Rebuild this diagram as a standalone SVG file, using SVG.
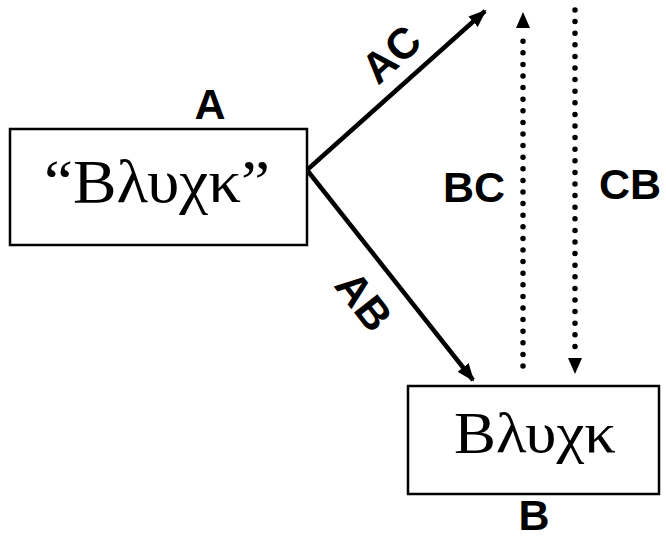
<svg xmlns="http://www.w3.org/2000/svg" width="666" height="543" viewBox="0 0 666 543">
<style>
.box{fill:#fff;stroke:#000;stroke-width:2.5}
.greek{font-family:"Liberation Serif","DejaVu Serif",serif;fill:#000;text-anchor:middle}
.lbl{font-family:"Liberation Sans",Arial,sans-serif;font-weight:bold;font-size:43px;fill:#000;text-anchor:middle}
.solid{stroke:#000;stroke-width:4.5;fill:none}
.dot{stroke:#000;stroke-width:5.5;fill:none;stroke-linecap:round;stroke-dasharray:0 11.6}
</style>
<defs>
<marker id="ah" markerUnits="userSpaceOnUse" markerWidth="18" markerHeight="14" refX="16" refY="7" orient="auto">
<path d="M0,0 L18,7 L0,14 Z" fill="#000"/>
</marker>
</defs>
<rect width="666" height="543" fill="#fff"/>
<g id="connectors">
<line class="solid" x1="307" y1="170" x2="485" y2="11" marker-end="url(#ah)"/>
<line class="solid" x1="307" y1="170" x2="473" y2="380" marker-end="url(#ah)"/>
<line class="dot" x1="523" y1="366" x2="523" y2="32"/>
<path d="M516,28 L530,28 L523,12 Z" fill="#000"/>
<line class="dot" x1="575" y1="10" x2="575" y2="355"/>
<path d="M568,358 L582,358 L575,374 Z" fill="#000"/>
<text class="lbl" transform="translate(391,54) rotate(-42)" y="15">AC</text>
<text class="lbl" transform="translate(364,301) rotate(52)" y="15">AB</text>
<text class="lbl" x="474" y="202">BC</text>
<text class="lbl" x="630" y="199">CB</text>
</g>
<g id="nodeA">
<rect class="box" x="10" y="129" width="297" height="116"/>
<text class="greek" x="157" y="202" font-size="61" textLength="226" lengthAdjust="spacingAndGlyphs">“Βλυχκ”</text>
<text class="lbl" x="210" y="119">A</text>
</g>
<g id="nodeB">
<rect class="box" x="408" y="386" width="251" height="108"/>
<text class="greek" x="535" y="452" font-size="57" textLength="162" lengthAdjust="spacingAndGlyphs">Βλυχκ</text>
<text class="lbl" x="534" y="530">B</text>
</g>
</svg>
